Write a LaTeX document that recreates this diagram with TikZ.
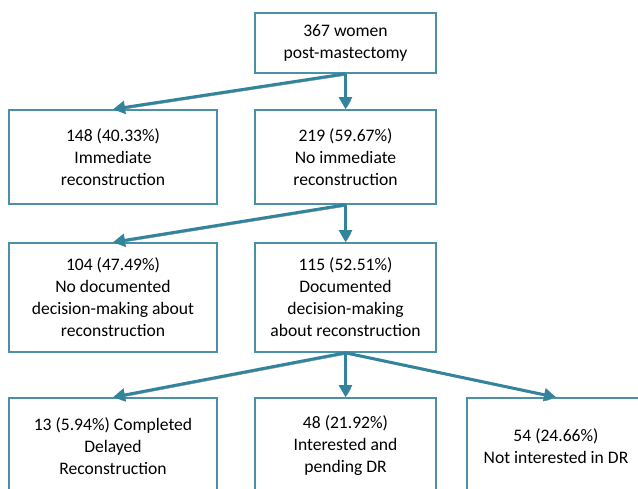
\documentclass[tikz,border=0pt]{standalone}
\usepackage{fontspec}
\setmainfont{Carlito}
\usetikzlibrary{arrows.meta}
\definecolor{flowteal}{HTML}{4A90A8}
\definecolor{flowarrow}{HTML}{31849B}
\tikzset{
  box/.style={draw=flowteal, line width=1.1pt, fill=white, align=center, inner sep=0pt, font=\fontsize{12.5}{15.6}\selectfont},
  wide/.style={box, minimum width=5.2cm},
  narrow/.style={box, minimum width=4.525cm},
  arrow/.style={-{Triangle[length=3mm, width=3.2mm]}, line width=2.1pt, draw=flowarrow,
    preaction={draw=black!40, transform canvas={shift={(0.8pt,-1pt)}}}}
}

\begin{document}
\begin{tikzpicture}[x=0.025cm, y=-0.025cm]
  \useasboundingbox (0,0) rectangle (638,488);
  \node[narrow, minimum height=1.5cm] (women) at (345.5,43) {367 women\\post-mastectomy};
  \node[wide, minimum height=2.35cm] (immediate) at (113,157) {148 (40.33\%)\\Immediate\\reconstruction};
  \node[narrow, minimum height=2.35cm] (noimmediate) at (345.5,157) {219 (59.67\%)\\No immediate\\reconstruction};
  \node[wide, minimum height=2.725cm] (nodecision) at (113,297.5) {104 (47.49\%)\\No documented\\decision-making about\\reconstruction};
  \node[narrow, minimum height=2.725cm] (decision) at (345.5,297.5) {115 (52.51\%)\\Documented\\decision-making\\about reconstruction};
  \node[wide, minimum height=2.4cm] (completed) at (113,446) {13 (5.94\%) Completed\\Delayed\\Reconstruction};
  \node[narrow, minimum height=2.4cm] (pending) at (345.5,446) {48 (21.92\%)\\Interested and\\pending DR};
  \node[box, minimum width=4.45cm, minimum height=2.4cm] (notinterested) at (556,446) {54 (24.66\%)\\Not interested in DR};

  \draw[arrow] (women.south) -- (immediate.north);
  \draw[arrow] (women.south) -- (noimmediate.north);
  \draw[arrow] (noimmediate.south) -- (nodecision.north);
  \draw[arrow] (noimmediate.south) -- (decision.north);
  \draw[arrow] (decision.south) -- (completed.north);
  \draw[arrow] (decision.south) -- (pending.north);
  \draw[arrow] (decision.south) -- (notinterested.north);
\end{tikzpicture}
\end{document}
